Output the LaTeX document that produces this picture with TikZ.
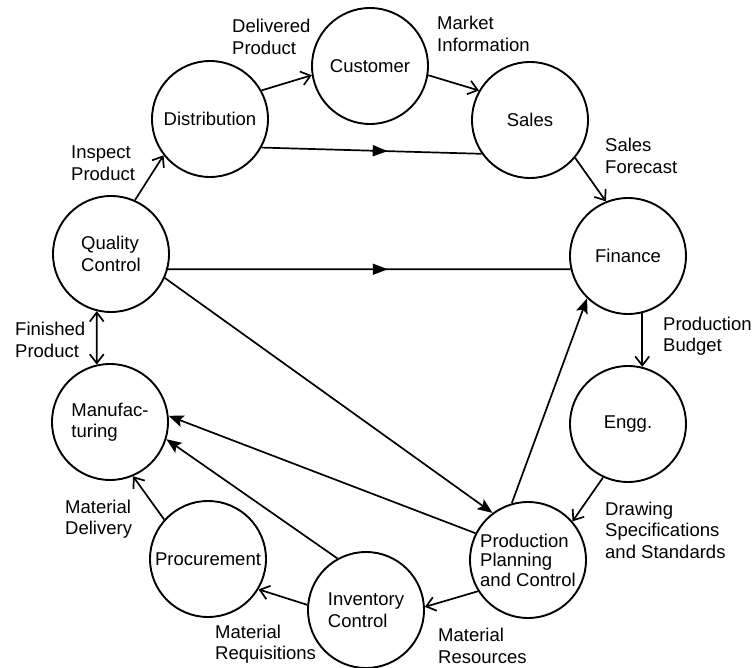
\documentclass[tikz,border=0pt]{standalone}
\usepackage{fontspec}
\setmainfont{Liberation Sans}
\usetikzlibrary{arrows.meta,decorations.markings}
\begin{document}
\begin{tikzpicture}[x=1pt,y=-1pt,
  every node/.style={font=\fontsize{18.5}{21.5}\selectfont},
  unit/.style={circle,draw,line width=1.9pt,minimum size=116pt,inner sep=0pt,align=left},
  lbl/.style={anchor=west,align=left,inner sep=0pt},
  barb/.tip={Straight Barb[length=9pt,width=14pt]},
  flow/.style={line width=1.7pt,-barb},
  feed/.style={line width=1.7pt,-{Stealth[length=15pt,width=12pt,inset=3pt]}},
  midflow/.style={line width=1.7pt,postaction={decorate},
    decoration={markings,mark=at position #1 with {\arrow{Triangle[length=15pt,width=11pt]}}}},
]
\useasboundingbox (0,0) rectangle (753,668);

% functional units
\node[unit] (cust)  at (370,66)  {Customer};
\node[unit] (dist)  at (210,119) {Distribution};
\node[unit] (sales) at (530,120) {Sales};
\node[unit] (qc)    at (111,254) {Quality\\Control};
\node[unit] (fin)   at (628,256) {Finance};
\node[unit] (mfg)   at (110,422) {Manufac-\\turing};
\node[unit] (engg)  at (628,424) {Engg.};
\node[unit] (proc)  at (208,559) {Procurement};
\node[unit] (inv)   at (366,610) {Inventory\\Control};
\node[unit,font=\fontsize{18.5}{19.5}\selectfont] (ppc) at (528,560) {Production\\Planning\\and Control};

% flow labels
\node[lbl] (ldel)  at (232,37)  {Delivered\\Product};
\node[lbl] (lmkt)  at (437,34)  {Market\\Information};
\node[lbl] (lfor)  at (605,156) {Sales\\Forecast};
\node[lbl] (lins)  at (71,163)  {Inspect\\Product};
\node[lbl] (lfin)  at (15,340)  {Finished\\Product};
\node[lbl] (lbud)  at (663,336) {Production\\Budget};
\node[lbl] (ldrw)  at (605,530) {Drawing\\Specifications\\and Standards};
\node[lbl] (lres)  at (438,646) {Material\\Resources};
\node[lbl] (lreq)  at (215,644) {Material\\Requisitions};
\node[lbl] (ldlv)  at (65,519)  {Material\\Delivery};

% flows between units
\draw[flow] (dist.29.5) -- (cust.189);
\draw[flow] (cust.351) -- (sales.150);
\draw[midflow=0.573] (dist.-29) -- (sales.215);
\draw[flow] (sales.-40) -- (fin.112);
\draw[midflow=0.546] (qc.-15.5) -- (fin.193.8);
\draw[flow] (qc.66) -- (dist.218);
\draw[line width=1.7pt,barb-barb] (qc.256) -- (mfg.103);
\draw[feed] (qc.-24) -- (ppc.127);
\draw[feed] (ppc.106) -- (fin.226);
\draw[flow] (fin.284) -- (engg.76);
\draw[flow] (engg.245) -- (ppc.41);
\draw[flow] (ppc.212.6) -- (inv.3);
\draw[flow] (inv.175) -- (proc.-31);
\draw[flow] (proc.138.5) -- (mfg.-67);
\draw[feed] (inv.119) -- (mfg.-17);
\draw[feed] (ppc.153) -- (mfg.6);
\end{tikzpicture}
\end{document}
